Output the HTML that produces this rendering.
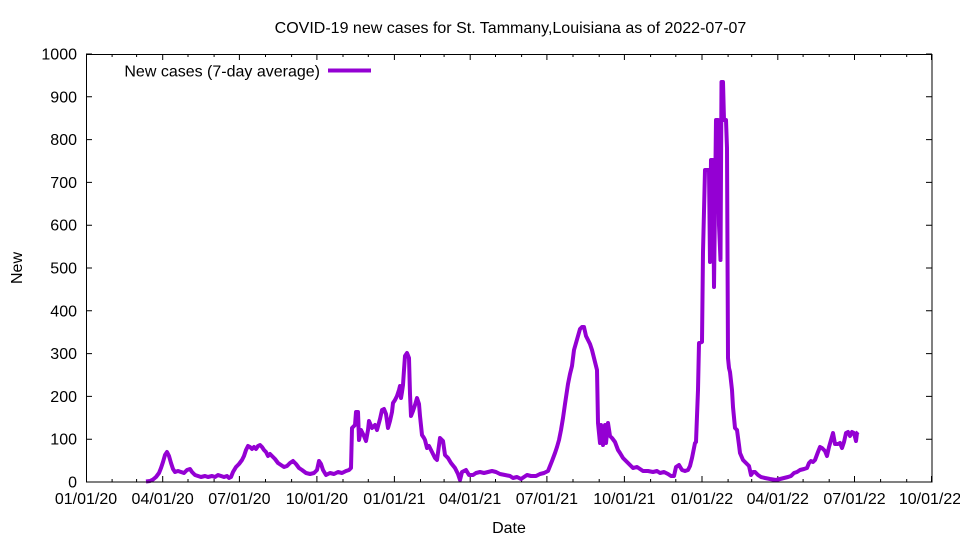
<!DOCTYPE html>
<html>
<head>
<meta charset="utf-8">
<style>
  html, body { margin: 0; padding: 0; background: #fff; }
  svg { display: block; }
  text { font-family: "Liberation Sans", Arial, sans-serif; font-size: 16px; fill: #000; }
</style>
</head>
<body>
<svg width="960" height="540" viewBox="0 0 960 540" xmlns="http://www.w3.org/2000/svg">
  <rect x="0" y="0" width="960" height="540" fill="#fff"/>

  <!-- Title -->
  <text x="510.5" y="33" text-anchor="middle">COVID-19 new cases for St. Tammany,Louisiana as of 2022-07-07</text>

  <!-- Y ticks (left and right mirror) -->
  <g stroke="#000" stroke-width="1">
    <path d="M86,482h6M86,439.2h6M86,396.4h6M86,353.6h6M86,310.8h6M86,268h6M86,225.2h6M86,182.4h6M86,139.6h6M86,96.8h6M86,54h6"/>
    <path d="M932,482h-6M932,439.2h-6M932,396.4h-6M932,353.6h-6M932,310.8h-6M932,268h-6M932,225.2h-6M932,182.4h-6M932,139.6h-6M932,96.8h-6M932,54h-6"/>
    <!-- X major ticks bottom -->
    <path d="M86.5,482v-6M162.7,482v-6M239.4,482v-6M316.9,482v-6M394.4,482v-6M470.2,482v-6M546.9,482v-6M624.4,482v-6M702,482v-6M777.8,482v-6M854.5,482v-6M931.5,482v-6"/>
    <!-- X minor ticks bottom -->
    <path d="M112.1,482v-3M136.6,482v-3M188,482v-3M214.1,482v-3M265.5,482v-3M291.6,482v-3M343,482v-3M368.3,482v-3M420.5,482v-3M444.1,482v-3M495.5,482v-3M521.6,482v-3M573,482v-3M599.2,482v-3M650.6,482v-3M675.8,482v-3M728.1,482v-3M751.7,482v-3M803.1,482v-3M829.2,482v-3M880.6,482v-3M906.7,482v-3"/>
    <!-- X major ticks top -->
    <path d="M86.5,54v6M162.7,54v6M239.4,54v6M316.9,54v6M394.4,54v6M470.2,54v6M546.9,54v6M624.4,54v6M702,54v6M777.8,54v6M854.5,54v6M931.5,54v6"/>
    <!-- X minor ticks top -->
    <path d="M112.1,54v3M136.6,54v3M188,54v3M214.1,54v3M265.5,54v3M291.6,54v3M343,54v3M368.3,54v3M420.5,54v3M444.1,54v3M495.5,54v3M521.6,54v3M573,54v3M599.2,54v3M650.6,54v3M675.8,54v3M728.1,54v3M751.7,54v3M803.1,54v3M829.2,54v3M880.6,54v3M906.7,54v3"/>
  </g>

  <!-- Y tick labels -->
  <g text-anchor="end">
    <text x="77" y="487.5">0</text>
    <text x="77" y="444.7">100</text>
    <text x="77" y="401.9">200</text>
    <text x="77" y="359.1">300</text>
    <text x="77" y="316.3">400</text>
    <text x="77" y="273.5">500</text>
    <text x="77" y="230.7">600</text>
    <text x="77" y="187.9">700</text>
    <text x="77" y="145.1">800</text>
    <text x="77" y="102.3">900</text>
    <text x="77" y="59.5">1000</text>
  </g>

  <!-- X tick labels -->
  <g text-anchor="middle">
    <text x="86" y="504">01/01/20</text>
    <text x="162.7" y="504">04/01/20</text>
    <text x="239.4" y="504">07/01/20</text>
    <text x="316.9" y="504">10/01/20</text>
    <text x="394.4" y="504">01/01/21</text>
    <text x="470.2" y="504">04/01/21</text>
    <text x="546.9" y="504">07/01/21</text>
    <text x="624.4" y="504">10/01/21</text>
    <text x="702" y="504">01/01/22</text>
    <text x="777.8" y="504">04/01/22</text>
    <text x="854.5" y="504">07/01/22</text>
    <text x="930" y="504">10/01/22</text>
  </g>

  <!-- Axis labels -->
  <text x="509" y="533" text-anchor="middle">Date</text>
  <text x="0" y="0" text-anchor="middle" transform="translate(22,268) rotate(-90)">New</text>

  <!-- Data series -->
  <polyline fill="none" stroke="#9400D3" stroke-width="4" stroke-linejoin="round" stroke-linecap="butt" points="
146,481.5 150,481 153,479.5 156,477 159,473 161,468 163,462 165,455 167,452 169,456 171,463 173,469 175,472 178,471 181,472 184,473 187,470 190,469 192,472 195,475 198,476 201,477 205,476 208,477 212,476 215,477 218,475 221,476 224,477 227,476 229,478 231,477 233,472 236,467 239,464 242,460 244,456 246,450 248,446 250,447 252,449 254,447 256,449 258,446 260,445 262,447 264,450 266,452 268,456 270,454 272,456 275,459 278,463 281,465 284,467 287,466 290,463 293,461 296,464 299,468 302,470 306,473 310,474 314,473 317,470 319,461 321,464 323,470 326,475 330,473 334,474 338,472 342,473 346,471 349,470 351,468 352,428 355,425 356,412 358,412 359,440 361,430 364,436 366,441 368,430 369,421 372,428 375,425 377,430 380,419 382,410 384,409 386,414 388,428 390,421 392,412 393,403 395,400 397,396 399,390 400,386 401,398 402,392 403,385 404,370 405,356 407,353 409,358 410,394 411,416 413,411 415,405 417,398 419,404 420,416 422,435 424,438 425,440 427,448 429,446 431,450 433,454 435,458 437,460 440,438 443,441 445,455 448,458 451,463 455,468 458,474 460,480 462,472 466,470 469,475 473,475 476,473 480,472 484,473 488,472 492,471 496,472 500,474 505,475 510,476 513,478 517,477 521,479 524,477 527,475 531,476 536,476 540,474 544,473 548,471 550,466 552,461 555,453 557,447 559,440 561,430 563,418 565,404 568,384 570,374 572,366 574,350 576,343 578,336 580,329 582,327 584,327 586,336 588,340 590,344 592,350 594,358 596,366 597,370 598,423 600,443 601,425 603,445 605,425 606,443 608,423 610,436 612,438 615,442 618,450 620,453 623,458 627,462 630,465 633,468 637,467 640,469 643,471 648,471 653,472 657,471 660,473 664,472 668,474 671,476 674,476 676,467 679,465 682,470 685,471 688,470 690,466 692,458 694,448 695,443 696,442 698,390 699,343 702,342 703,252 705,170 709,170 710,262 711,160 713,160 714,287 716,120 718,120 719,225 720.5,260 721.5,82 723,82 724,120 726,120 727,148 728,358 729,368 730,372 732,390 733,407 735,428 737,430 739,445 740,453 743,460 746,463 749,466 751,475 753,472 755,472 758,475 761,477 765,478 770,479 776,480 780,479 784,478 788,477 791,476 794,473 797,472 800,470 804,469 807,468 809,463 811,461 813,462 815,460 818,452 820,447 822,448 825,451 827,456 829,447 831,440 833,433 835,444 838,444 840,443 842,448 844,442 846,433 848,432 850,436 852,432 854,433 856,441 857,433 858,432"/>

  <!-- Legend -->
  <text x="320" y="76.5" text-anchor="end">New cases (7-day average)</text>
  <line x1="328" y1="70.5" x2="371" y2="70.5" stroke="#9400D3" stroke-width="4"/>

  <!-- Plot border -->
  <rect x="86.5" y="54.5" width="845.5" height="427.5" fill="none" stroke="#000" stroke-width="1"/>
</svg>
</body>
</html>
